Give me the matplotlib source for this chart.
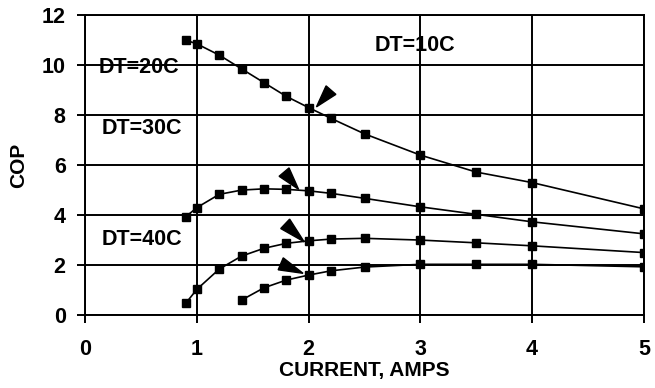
import matplotlib
matplotlib.use("Agg")
import matplotlib.pyplot as plt
import numpy as np
from matplotlib.patches import Polygon
from matplotlib.transforms import IdentityTransform

# ---------------------------
# Dados
# ---------------------------
x_10 = [0.9, 1.0, 1.2, 1.4, 1.6, 1.8, 2.0, 2.2, 2.5, 3.0, 3.5, 4.0, 5.0]
cop_10 = [11.0, 10.85, 10.4, 9.85, 9.3, 8.75, 8.3, 7.87, 7.25, 6.4, 5.72, 5.3, 4.25]

x_20 = [0.9, 1.0, 1.2, 1.4, 1.6, 1.8, 2.0, 2.2, 2.5, 3.0, 3.5, 4.0, 5.0]
cop_20 = [3.93, 4.3, 4.83, 5.0, 5.05, 5.03, 4.97, 4.87, 4.67, 4.33, 4.03, 3.73, 3.25]

x_30 = [0.9, 1.0, 1.2, 1.4, 1.6, 1.8, 2.0, 2.2, 2.5, 3.0, 3.5, 4.0, 5.0]
cop_30 = [0.47, 1.03, 1.84, 2.36, 2.67, 2.87, 2.97, 3.04, 3.07, 3.0, 2.89, 2.77, 2.5]

x_40 = [1.4, 1.6, 1.8, 2.0, 2.2, 2.5, 3.0, 3.5, 4.0, 5.0]
cop_40 = [0.6, 1.09, 1.4, 1.6, 1.77, 1.92, 2.03, 2.03, 2.03, 1.93]

labels = ["DT=10C", "DT=20C", "DT=30C", "DT=40C"]
label_pos = [(2.95, 10.8), (0.48, 9.92), (0.51, 7.48), (0.51, 3.04)]

# setas: (ponta), (cauda)
arrow_tips = [(2.07, 8.33), (1.91, 5.03), (1.96, 2.93), (1.95, 1.67)]
arrow_tails = [(2.2, 9.0), (1.78, 5.72), (1.79, 3.65), (1.75, 2.05)]

# ---------------------------
# Gráfico
# ---------------------------
plt.rcParams['font.family'] = ['Liberation Sans', 'DejaVu Sans']
plt.rcParams['font.weight'] = 'bold'

fig = plt.figure(figsize=(6.55, 3.88), dpi=100)
ax = fig.add_axes([0.130, 0.188, 0.853, 0.773])

for xs, ys in [(x_10, cop_10), (x_20, cop_20), (x_30, cop_30), (x_40, cop_40)]:
    ax.plot(xs, ys, color='black', lw=1.2, marker='s', ms=6, zorder=3)

for txt, (tx, ty) in zip(labels, label_pos):
    ax.text(tx, ty, txt, ha='center', va='center', fontsize=15.5, fontweight='bold')

ax.set_xlim(0, 5)
ax.set_ylim(0, 12)
ax.set_xticks(range(0, 6))
ax.set_yticks(range(0, 13, 2))
ax.grid(True, color='black', lw=1.4)
ax.set_axisbelow(True)
for s in ax.spines.values():
    s.set_linewidth(1.4)
ax.tick_params(direction='out', length=6, width=1.4, labelsize=15.5, pad=8)
ax.tick_params(axis='x', pad=11)
ax.set_xlabel("CURRENT, AMPS", fontsize=15, fontweight='bold', labelpad=1)
ax.set_ylabel("COP", fontsize=15, fontweight='bold', labelpad=10)

# setas triangulares desenhadas em pixels
for tip, tail in zip(arrow_tips, arrow_tails):
    p_tip = ax.transData.transform(tip)
    p_tail = ax.transData.transform(tail)
    d = p_tip - p_tail
    n = np.array([-d[1], d[0]]) / np.hypot(*d)
    tri = [p_tip, p_tail + n * 6.5, p_tail - n * 6.5]
    ax.add_patch(Polygon(tri, closed=True, color='black', transform=IdentityTransform(), zorder=4))

plt.savefig("out.png", dpi=100)
